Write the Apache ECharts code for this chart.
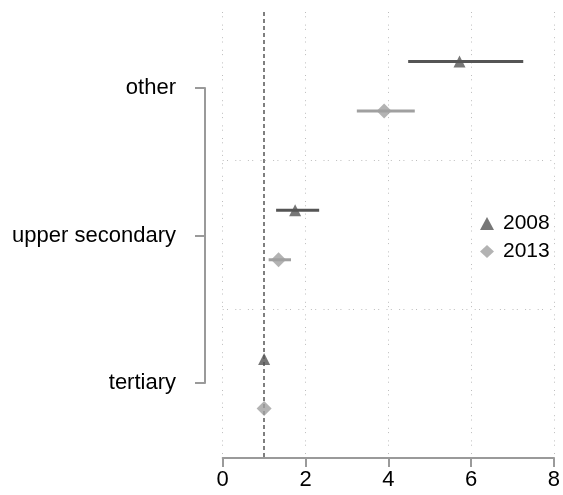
<!DOCTYPE html>
<html>
<head>
<meta charset="utf-8">
<script src="https://cdn.jsdelivr.net/npm/echarts@6/dist/echarts.min.js"></script>
<style>
  html, body { margin: 0; padding: 0; background: #fff; }
  #main { width: 563px; height: 495px; }
</style>
</head>
<body>
<div id="main"></div>
<script>
// groups (top to bottom) and estimates with confidence bounds
var groups = ['other', 'upper secondary', 'tertiary'];
var est2008 = [5.72, 1.75, 1.0];
var lo2008  = [4.48, 1.29, 1.0];
var hi2008  = [7.26, 2.33, 1.0];
var est2013 = [3.90, 1.35, 1.0];
var lo2013  = [3.24, 1.11, 1.0];
var hi2013  = [4.64, 1.65, 1.0];
var xTicks  = [0, 2, 4, 6, 8];
var refLine = 1;

var FONT = 'Liberation Sans, Arial, sans-serif';
var dark = '#555555', light = '#a0a0a0';

// each group takes 3 rows: 2008 on row 3i+1, 2013 on row 3i+2
function points(est, off) {
    return est.map(function (v, i) { return [v, i * 3 + off]; });
}
function bars(lo, hi, off) {
    return lo.map(function (v, i) { return [v, hi[i], i * 3 + off]; });
}
function ciRender(color) {
    return function (params, api) {
        var a = api.coord([api.value(0), api.value(2)]);
        var b = api.coord([api.value(1), api.value(2)]);
        return {
            type: 'line',
            shape: { x1: a[0], y1: a[1], x2: b[0], y2: b[1] },
            style: { stroke: color, lineWidth: 3 }
        };
    };
}

var myChart = echarts.init(document.getElementById('main'));
var option = {
    backgroundColor: '#fff',
    animation: false,
    textStyle: { fontFamily: FONT },
    grid: [
        { left: 222.7, right: 6, top: 12, bottom: 37 },
        { left: 205, width: 10, top: 88, bottom: 112 }
    ],
    legend: {
        data: ['2008', '2013'],
        orient: 'vertical',
        left: 480,
        top: 213,
        padding: 0,
        itemGap: 7,
        itemWidth: 14,
        itemHeight: 13,
        textStyle: { fontSize: 21, color: '#000', fontFamily: FONT, padding: [0, 0, 0, 4] }
    },
    xAxis: [
        {
            gridIndex: 0,
            type: 'value',
            position: 'bottom',
            min: xTicks[0],
            max: xTicks[xTicks.length - 1],
            interval: 2,
            axisLine: { show: true, onZero: false, lineStyle: { color: '#9a9a9a', width: 2 } },
            axisTick: { show: true, length: 9, lineStyle: { color: '#9a9a9a', width: 2 } },
            axisLabel: { fontSize: 22, color: '#000', margin: 11, fontFamily: FONT },
            splitLine: { show: true, lineStyle: { color: '#bdbdbd', width: 1, type: [1, 3.3, 1, 7.3] } }
        },
        { gridIndex: 1, type: 'value', show: false }
    ],
    yAxis: [
        {
            gridIndex: 0,
            type: 'value',
            min: 0,
            max: groups.length * 3,
            inverse: true,
            axisLine: { show: false },
            axisTick: { show: false },
            axisLabel: { show: false },
            splitLine: { show: false }
        },
        {
            gridIndex: 1,
            type: 'category',
            data: groups,
            inverse: true,
            boundaryGap: false,
            axisLine: { show: true, lineStyle: { color: '#9a9a9a', width: 2 } },
            axisTick: { show: true, length: 10, lineStyle: { color: '#9a9a9a', width: 2 } },
            axisLabel: { fontSize: 22, color: '#000', margin: 29, fontFamily: FONT },
            splitLine: { show: false }
        }
    ],
    series: [
        {
            name: 'ci2008',
            type: 'custom',
            xAxisIndex: 0, yAxisIndex: 0,
            renderItem: ciRender(dark),
            encode: { x: [0, 1], y: 2 },
            data: bars(lo2008, hi2008, 1),
            silent: true,
            z: 3
        },
        {
            name: 'ci2013',
            type: 'custom',
            xAxisIndex: 0, yAxisIndex: 0,
            renderItem: ciRender(light),
            encode: { x: [0, 1], y: 2 },
            data: bars(lo2013, hi2013, 2),
            silent: true,
            z: 3
        },
        {
            name: '2008',
            type: 'scatter',
            xAxisIndex: 0, yAxisIndex: 0,
            symbol: 'triangle',
            symbolSize: [12, 12],
            itemStyle: { color: dark },
            data: points(est2008, 1),
            z: 5,
            markLine: {
                silent: true,
                symbol: 'none',
                label: { show: false },
                lineStyle: { color: dark, width: 1.5, type: [4, 3] },
                data: [{ xAxis: refLine }]
            }
        },
        {
            name: '2013',
            type: 'scatter',
            xAxisIndex: 0, yAxisIndex: 0,
            symbol: 'diamond',
            symbolSize: [15, 15],
            itemStyle: { color: light },
            data: points(est2013, 2),
            z: 5,
            markLine: {
                silent: true,
                symbol: 'none',
                label: { show: false },
                lineStyle: { color: '#bdbdbd', width: 1, type: [1, 3.3, 1, 7.3] },
                data: [{ yAxis: 3 }, { yAxis: 6 }]
            }
        }
    ]
};
myChart.setOption(option);
</script>
</body>
</html>
